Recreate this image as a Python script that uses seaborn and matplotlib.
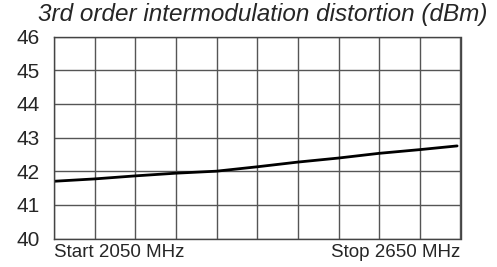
import matplotlib
matplotlib.use("Agg")
import matplotlib.pyplot as plt
import seaborn as sns
import pandas as pd

# Data
freq_mhz = [2050, 2110, 2170, 2230, 2290, 2350, 2410, 2470, 2530, 2590, 2645]
imd_dbm = [41.70, 41.77, 41.86, 41.94, 42.00, 42.13, 42.27, 42.39, 42.53, 42.64, 42.75]
grid_x = [2050, 2110, 2170, 2230, 2290, 2350, 2410, 2470, 2530, 2590, 2650]
y_ticks = [40, 41, 42, 43, 44, 45, 46]
x_labels = ["Start 2050 MHz", "", "", "", "", "", "", "", "", "", "Stop 2650 MHz"]
title = "3rd order intermodulation distortion (dBm)"

sns.set_style("white")
plt.rcParams['font.family'] = ['Liberation Sans', 'DejaVu Sans']

df = pd.DataFrame({"freq": freq_mhz, "imd": imd_dbm})

fig = plt.figure(figsize=(4.97, 2.67), dpi=100)
ax = fig.add_axes([54/497, 1 - 238.5/267, (460.5 - 54)/497, (238.5 - 36.5)/267])

sns.lineplot(data=df, x="freq", y="imd", ax=ax, color="black", linewidth=2.0)

ax.set_xlim(2050, 2650)
ax.set_ylim(40, 46)
ax.set_xticks(grid_x)
ax.set_xticklabels(x_labels, fontsize=13.5)
ax.set_yticks(y_ticks)
ax.set_yticklabels([str(v) for v in y_ticks], fontsize=15)
labels = ax.get_xticklabels()
labels[0].set_horizontalalignment("left")
labels[-1].set_horizontalalignment("right")
for lab in labels[-1:]:
    lab.set_x(2650)
ax.tick_params(axis="both", length=0)
ax.tick_params(axis="x", pad=4)
ax.tick_params(axis="y", pad=10)
ax.grid(True, color="#555555", linewidth=1.0)
for s in ax.spines.values():
    s.set_visible(True)
    s.set_color("#444444")
    s.set_linewidth(1.0)
ax.set_xlabel("")
ax.set_ylabel("")
fig.text(263/497, 1 - 15/267, title, ha="center", va="center",
         fontsize=17.5, style="italic")

fig.savefig("out.png", dpi=100)
